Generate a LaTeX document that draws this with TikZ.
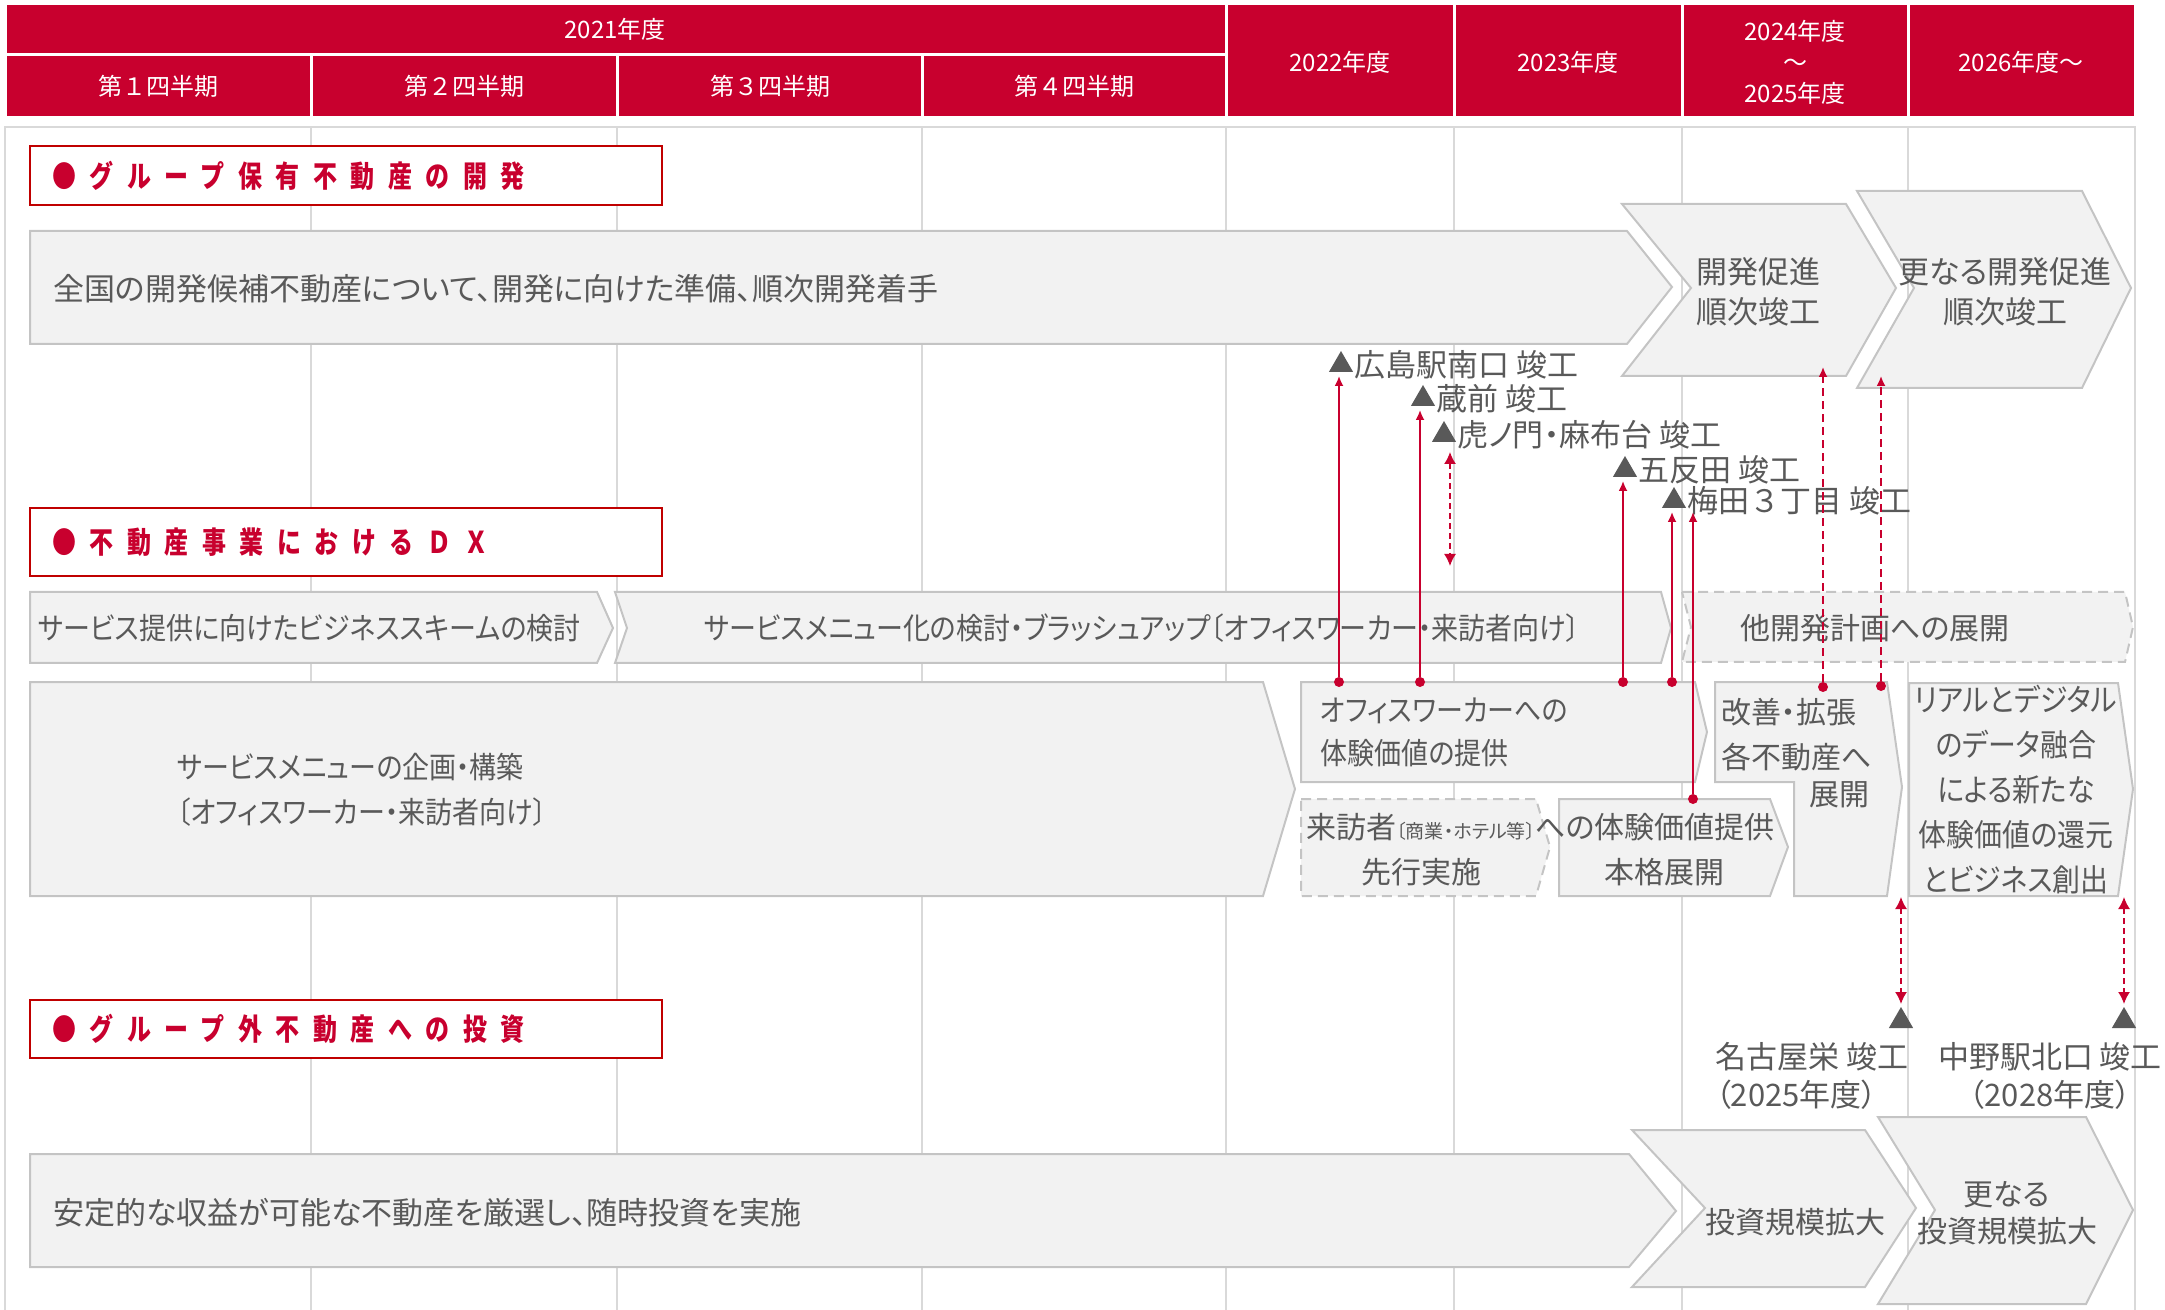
\documentclass[tikz,border=0pt]{standalone}
\usepackage{fontspec}
\setmainfont{Noto Sans CJK JP}[RawFeature=+palt]
\newfontfamily\condfont{Noto Sans CJK JP}[RawFeature=+palt,FakeStretch=0.9]
\newfontfamily\hdrfont{Noto Sans CJK JP}
\newfontfamily\headfont{Noto Sans CJK JP}[LetterSpace=45,FakeStretch=0.8]
\usetikzlibrary{arrows.meta,positioning,shapes.geometric}
\definecolor{hdrred}{RGB}{200,0,46}
\definecolor{boxred}{RGB}{192,0,0}
\definecolor{txtgray}{RGB}{89,89,89}
\definecolor{fillgray}{RGB}{242,242,242}
\definecolor{edgegray}{RGB}{196,196,196}
\definecolor{gridgray}{RGB}{217,217,217}

\begin{document}
\begin{tikzpicture}[x=0.5pt,y=-0.5pt,
	cell/.style={fill=hdrred,draw=white,line width=1.5pt},
	hdr/.style={text=white,font=\hdrfont\fontsize{12}{15.5}\selectfont,align=center,inner sep=0},
	sect/.style={draw=boxred,line width=1.4pt,fill=white},
	secttxt/.style={text=hdrred,font=\headfont\bfseries\fontsize{15}{17}\selectfont,anchor=west,inner sep=0},
	pbox/.style={fill=fillgray,draw=edgegray,line width=1pt},
	dbox/.style={pbox,dash pattern=on 5pt off 3pt},
	txt/.style={text=txtgray,font=\fontsize{15}{22.5}\selectfont,inner sep=0},
	ctxt/.style={txt,font=\condfont\fontsize{15}{22.5}\selectfont},
	mlab/.style={txt,font=\fontsize{15.5}{18}\selectfont},
	mtri/.style={regular polygon,regular polygon sides=3,fill=txtgray,minimum size=14pt,inner sep=0,outer sep=0},
	joint/.style={circle,fill=hdrred,inner sep=0,minimum size=5pt},
	link/.style={hdrred,line width=0.9pt,-{Latex[length=5pt,width=4.5pt]},shorten >=2pt},
	dlink/.style={link,dash pattern=on 4pt off 2.5pt},
	twoway/.style={hdrred,line width=0.8pt,dash pattern=on 3pt off 2pt,{Latex[length=6pt,width=6pt]}-{Latex[length=6pt,width=6pt]}}]
\useasboundingbox (0,0) rectangle (2165,1310);
% frame and column lines
\draw[gridgray,line width=1pt] (5,1312) -- (5,127) -- (2135,127) -- (2135,1312);
\foreach \gx in {311,617,922,1226,1454,1682,1908}
	\draw[gridgray,line width=1pt] (\gx,127) -- (\gx,1312);

% header
\draw[cell] (5,4) rectangle (1226,55);
\foreach \qa/\qb in {5/311,311/617,617/922,922/1226}
	\draw[cell] (\qa,55) rectangle (\qb,118);
\foreach \qa/\qb in {1226/1454,1454/1682,1682/1908,1908/2135}
	\draw[cell] (\qa,4) rectangle (\qb,118);
\node[hdr] (y21) at (615,29) {2021年度};
\node[hdr] (q1) at (158,86) {第１四半期};
\node[hdr] (q2) at (464,86) {第２四半期};
\node[hdr] (q3) at (770,86) {第３四半期};
\node[hdr] (q4) at (1074,86) {第４四半期};
\node[hdr] (y22) at (1340,62) {2022年度};
\node[hdr] (y23) at (1568,62) {2023年度};
\node[hdr] (y2425) at (1795,62) {2024年度\\～\\2025年度};
\node[hdr] (y26) at (2021,62) {2026年度～};

% section 1
\draw[sect] (30,146) rectangle (662,205);
\node[secttxt] (s1) at (52,176) {●グループ保有不動産の開発};
\draw[pbox] (30,231) -- (1627,231) -- (1672,287) -- (1627,344) -- (30,344) -- cycle;
\node[txt,anchor=west,font=\fontsize{15.5}{18}\selectfont] (dev) at (53,289) {全国の開発候補不動産について、開発に向けた準備、順次開発着手};
\draw[pbox] (1622,204) -- (1846,204) -- (1896,288) -- (1846,376) -- (1622,376) -- (1691,288) -- cycle;
\node[txt,align=center,font=\fontsize{15.5}{20}\selectfont] (devup) at (1758,292) {開発促進\\順次竣工};
\draw[pbox] (1857,191) -- (2082,191) -- (2131,288) -- (2082,388) -- (1857,388) -- (1914,288) -- cycle;
\node[txt,align=center,font=\fontsize{15.5}{20}\selectfont] (devmore) at (2005,292) {更なる開発促進\\順次竣工};
\coordinate (devupin) at (1823,367);
\coordinate (devmorein) at (1879,376);

% completions
\node[mtri] (hiro) at (1341,365) {};
\node[mlab,right=2.5pt of hiro] (hirol) {広島駅南口 竣工};
\node[mtri] (kura) at (1423,399) {};
\node[mlab,right=2.5pt of kura] (kural) {蔵前 竣工};
\node[mtri] (tora) at (1444,435) {};
\node[mlab,right=2.5pt of tora] (toral) {虎ノ門・麻布台 竣工};
\node[mtri] (gota) at (1625,470) {};
\node[mlab,right=2.5pt of gota] (gotal) {五反田 竣工};
\node[mtri] (ume) at (1674,501) {};
\node[mlab,right=2.5pt of ume] (umel) {梅田{\hdrfont ３}丁目 竣工};

% section 2
\draw[sect] (30,508) rectangle (662,576);
\node[secttxt] (s2) at (52,542) {●不動産事業におけるＤＸ};
\draw[pbox] (30,592) -- (597,592) -- (613,628) -- (597,663) -- (30,663) -- cycle;
\node[ctxt,anchor=west] (scheme) at (38,628) {サービス提供に向けたビジネススキームの検討};
\draw[pbox] (615,592) -- (1661,592) -- (1671,628) -- (1661,663) -- (615,663) -- (627,628) -- cycle;
\node[ctxt] (brush) at (1142,628) {サービスメニュー化の検討・ブラッシュアップ〔オフィスワーカー・来訪者向け〕};
\draw[dbox] (1682,592) -- (2125,592) -- (2133,627) -- (2125,662) -- (1682,662) -- (1691,627) -- cycle;
\node[txt] (other) at (1875,628) {他開発計画への展開};
\draw[pbox] (30,682) -- (1263,682) -- (1295,789) -- (1263,896) -- (30,896) -- cycle;
\node[ctxt,anchor=west,align=left] (plan) at (177,790) {サービスメニューの企画・構築\\〔オフィスワーカー・来訪者向け〕};
\draw[pbox] (1301,682) -- (1695,682) -- (1707,732) -- (1695,782) -- (1301,782) -- cycle;
\node[ctxt,anchor=west,align=left,font=\condfont\fontsize{15}{21.5}\selectfont] (office) at (1320,732) {オフィスワーカーへの\\体験価値の提供};
\draw[dbox] (1301,799) -- (1536,799) -- (1550,847) -- (1536,896) -- (1301,896) -- cycle;
\draw[pbox] (1559,799) -- (1770,799) -- (1788,847) -- (1770,896) -- (1559,896) -- cycle;
\node[txt,anchor=west] (visit) at (1306,827) {来訪者{\fontsize{9.5}{10}\selectfont〔商業・ホテル等〕}への体験価値提供};
\node[txt] (pilot) at (1421,872) {先行実施};
\node[txt] (full) at (1664,872) {本格展開};
\draw[pbox] (1715,682) -- (1887,682) -- (1902,787) -- (1887,896) -- (1794,896) -- (1794,782) -- (1715,782) -- cycle;
\node[txt,anchor=west,align=left] (kaizen) at (1721,735) {改善・拡張\\各不動産へ};
\node[txt] (tenkai) at (1839,795) {展開};
\draw[pbox] (1909,683) -- (2118,683) -- (2133,789) -- (2118,896) -- (1909,896) -- cycle;
\node[txt,align=center,font=\condfont\fontsize{15.5}{22.5}\selectfont] (real) at (2016,790) {リアルとデジタル\\のデータ融合\\による新たな\\体験価値の還元\\とビジネス創出};

% section 3
\draw[sect] (30,1000) rectangle (662,1058);
\node[secttxt] (s3) at (52,1029) {●グループ外不動産への投資};
\node[mtri] (nago) at (1901,1021) {};
\node[mtri] (naka) at (2124,1021) {};
\node[txt,anchor=west,align=left,font=\fontsize{15.5}{19}\selectfont] (nagol) at (1715,1076) {名古屋栄 竣工\\（2025年度）};
\node[txt,align=center,font=\fontsize{15.5}{19}\selectfont] (nakal) at (2050,1076) {中野駅北口 竣工\\（2028年度）};
\draw[pbox] (30,1154) -- (1629,1154) -- (1676,1211) -- (1629,1267) -- (30,1267) -- cycle;
\node[txt,anchor=west,font=\fontsize{15.5}{18}\selectfont] (inv) at (53,1213) {安定的な収益が可能な不動産を厳選し、随時投資を実施};
\draw[pbox] (1632,1130) -- (1865,1130) -- (1916,1208) -- (1865,1287) -- (1632,1287) -- (1705,1208) -- cycle;
\node[txt] (invup) at (1795,1222) {投資規模拡大};
\draw[pbox] (1878,1117) -- (2086,1117) -- (2133,1210) -- (2086,1304) -- (1878,1304) -- (1935,1210) -- cycle;
\node[txt,align=center,font=\fontsize{15}{18.5}\selectfont] (invmore) at (2007,1213) {更なる\\投資規模拡大};

% connectors
\node[joint] (j1) at (1339,682) {};
\node[joint] (j2) at (1420,682) {};
\node[joint] (j3) at (1623,682) {};
\node[joint] (j4) at (1672,682) {};
\node[joint] (j5) at (1693,799) {};
\node[joint] (k1) at (1823,687) {};
\node[joint] (k2) at (1881,686) {};
\draw[link] (j1) -- (j1 |- hiro.south);
\draw[link] (j2) -- (j2 |- kura.south);
\draw[link] (j3) -- (j3 |- gota.south);
\draw[link] (j4) -- (j4 |- ume.south);
\draw[link] (j5) -- (j5 |- ume.south);
\draw[dlink,shorten >=0pt] (k1) -- (devupin);
\draw[dlink,shorten >=0pt] (k2) -- (k2 |- devmorein);
\coordinate (torab) at (1450,566);
\draw[twoway,shorten <=5pt] (torab |- tora.south) -- (torab);
\coordinate (nagot) at (1901,897);
\coordinate (nakat) at (2124,897);
\draw[twoway,shorten >=1.5pt] (nagot) -- (nago.north);
\draw[twoway,shorten >=1.5pt] (nakat) -- (naka.north);
\end{tikzpicture}
\end{document}
